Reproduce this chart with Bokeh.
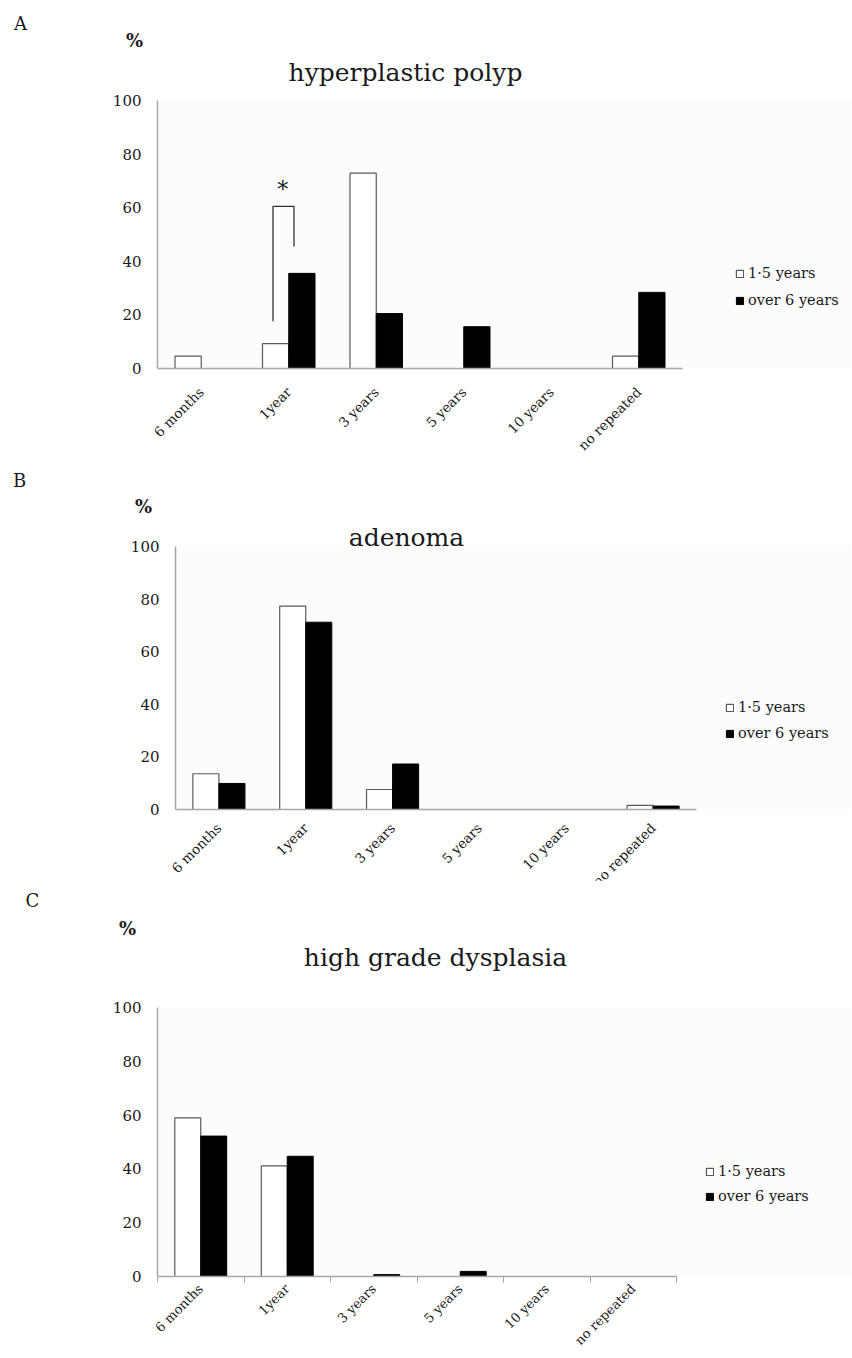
import math
from bokeh.plotting import figure
from bokeh.models import Range1d, FixedTicker, Label, Legend, LegendItem, ColumnDataSource
from bokeh.embed import file_html
from bokeh.resources import INLINE

# ---------------- data ----------------
categories = ["6 months", "1year", "3 years", "5 years", "10 years", "no repeated"]
series_names = ["1\u00b75 years", "over 6 years"]
y_ticks = [0, 20, 40, 60, 80, 100]

hyper_1_5 = [4.6, 9.3, 72.9, 0, 0, 4.6]
hyper_over6 = [0, 35.5, 20.5, 15.6, 0, 28.4]

adenoma_1_5 = [13.6, 77.3, 7.6, 0, 0, 1.6]
adenoma_over6 = [9.9, 71.2, 17.3, 0, 0, 1.3]

hgd_1_5 = [59.0, 41.1, 0, 0, 0, 0]
hgd_over6 = [52.2, 44.7, 0.7, 1.9, 0, 0]

# significance bracket on panel A (1year group)
sig_x = [0.82, 0.82, 1.06, 1.06]
sig_y = [17.6, 60.5, 60.5, 45.5]
sig_star_x = 0.93
sig_star_y = 66.7

SERIF = "DejaVu Serif"
TXT = "#1a1a1a"
AX = "#a6a6a6"
BAR_W = 0.3
PAGE_W = 852
FRAME_RIGHT = 850


def make_panel(letter, title, v1, v2, H, L, R, T, Hf,
               letter_xy, pct_xy, title_xy, legend_loc, legend_spacing,
               tick_marks, label_standoff, label_size, styles=None):
    n = len(categories)
    Wa = R - L                       # pixel length of the category axis
    x_end = -0.5 + (FRAME_RIGHT - L) / Wa * n
    kw = dict(styles=styles) if styles else {}
    p = figure(width=PAGE_W, height=H, x_range=Range1d(-0.5, x_end), y_range=Range1d(0, 100),
               output_backend="svg", toolbar_location=None,
               min_border_left=L, min_border_top=T,
               min_border_right=PAGE_W - FRAME_RIGHT, min_border_bottom=H - T - Hf, **kw)
    p.xgrid.visible = False
    p.ygrid.visible = False
    p.outline_line_color = None
    p.background_fill_color = "#fcfcfc"
    p.border_fill_color = "white"

    def to_data(fx, fy):
        return (-0.5 + (fx - L) / Wa * n, 100.0 - (fy - T) / Hf * 100.0)

    # bars
    idx1 = [i for i, v in enumerate(v1) if v > 0]
    idx2 = [i for i, v in enumerate(v2) if v > 0]
    s1 = ColumnDataSource(dict(x=[i - BAR_W / 2 for i in idx1], top=[v1[i] for i in idx1]))
    s2 = ColumnDataSource(dict(x=[i + BAR_W / 2 for i in idx2], top=[v2[i] for i in idx2]))
    r1 = p.vbar(x="x", top="top", width=BAR_W, source=s1, fill_color="white",
                line_color="#5a5a5a", line_width=1.2)
    r2 = p.vbar(x="x", top="top", width=BAR_W, source=s2, fill_color="black",
                line_color="black", line_width=1.0)

    # x axis (limited to the category span)
    xa = p.xaxis[0]
    xa.bounds = (-0.5, n - 0.5)
    xa.ticker = FixedTicker(ticks=list(range(n)),
                            minor_ticks=[i - 0.5 for i in range(n + 1)] if tick_marks else [])
    xa.major_label_overrides = {i: c for i, c in enumerate(categories)}
    xa.major_label_orientation = math.pi / 4
    xa.major_tick_in = 0
    xa.major_tick_out = 0
    xa.minor_tick_in = 0
    xa.minor_tick_out = 6 if tick_marks else 0
    xa.minor_tick_line_color = AX
    xa.axis_line_color = AX
    xa.axis_line_width = 1.5
    xa.major_label_text_font = SERIF
    xa.major_label_text_font_size = label_size
    xa.major_label_text_color = TXT
    xa.major_label_standoff = label_standoff

    # y axis
    ya = p.yaxis[0]
    ya.ticker = FixedTicker(ticks=y_ticks)
    ya.major_tick_in = 0
    ya.major_tick_out = 0
    ya.minor_tick_line_color = None
    ya.axis_line_color = AX
    ya.axis_line_width = 1.5
    ya.major_label_text_font = SERIF
    ya.major_label_text_font_size = "15px"
    ya.major_label_text_color = TXT
    ya.major_label_standoff = 16

    # legend (inside the widened frame, right of the bars)
    legend = Legend(items=[LegendItem(label=series_names[0], renderers=[r1]),
                           LegendItem(label=series_names[1], renderers=[r2])],
                    location=legend_loc, orientation="vertical",
                    background_fill_alpha=0, border_line_color=None,
                    padding=0, margin=0, spacing=legend_spacing,
                    glyph_width=9, glyph_height=9, label_standoff=4,
                    label_height=18, label_text_font=SERIF,
                    label_text_font_size="14.5px", label_text_color=TXT)
    p.add_layout(legend)

    # texts above the frame
    lx, ly = to_data(*letter_xy)
    p.add_layout(Label(x=lx, y=ly, text=letter, text_font=SERIF, text_font_size="18px",
                       text_color=TXT, text_align="center", text_baseline="middle"), "above")
    px_, py_ = to_data(*pct_xy)
    p.add_layout(Label(x=px_, y=py_, text="%", text_font=SERIF, text_font_size="18px",
                       text_font_style="bold", text_color=TXT, text_align="center",
                       text_baseline="middle"), "above")
    tx, ty = to_data(*title_xy)
    p.add_layout(Label(x=tx, y=ty, text=title, text_font=SERIF, text_font_size="25px",
                       text_color=TXT, text_align="center", text_baseline="middle"), "above")
    return p


pA = make_panel("A", "hyperplastic polyp", hyper_1_5, hyper_over6,
                H=462, L=157, R=682, T=100, Hf=268,
                letter_xy=(20, 23), pct_xy=(134, 40), title_xy=(405, 72),
                legend_loc=(578, 59), legend_spacing=9,
                tick_marks=False, label_standoff=21, label_size="13.5px")
# significance marker
pA.line(sig_x, sig_y, line_color="#333333", line_width=1.3)
pA.add_layout(Label(x=sig_star_x, y=sig_star_y, text="*", text_font=SERIF,
                    text_font_size="22px", text_color=TXT, text_align="center",
                    text_baseline="middle"))

# panel B starts at y = 462, its lower labels are overlapped by panel C (starts at 880)
pB = make_panel("B", "adenoma", adenoma_1_5, adenoma_over6,
                H=436, L=175, R=696, T=84, Hf=263,
                letter_xy=(19, 18), pct_xy=(143, 44), title_xy=(406, 75),
                legend_loc=(550, 67), legend_spacing=8,
                tick_marks=False, label_standoff=16, label_size="13.5px",
                styles={"margin-bottom": "-18px"})

pC = make_panel("C", "high grade dysplasia", hgd_1_5, hgd_over6,
                H=477, L=157, R=676, T=127, Hf=269,
                letter_xy=(32, 20), pct_xy=(127, 48), title_xy=(435, 77),
                legend_loc=(548, 71), legend_spacing=7,
                tick_marks=True, label_standoff=4, label_size="13px")

open("out.html", "w").write(file_html([pA, pB, pC], INLINE))
